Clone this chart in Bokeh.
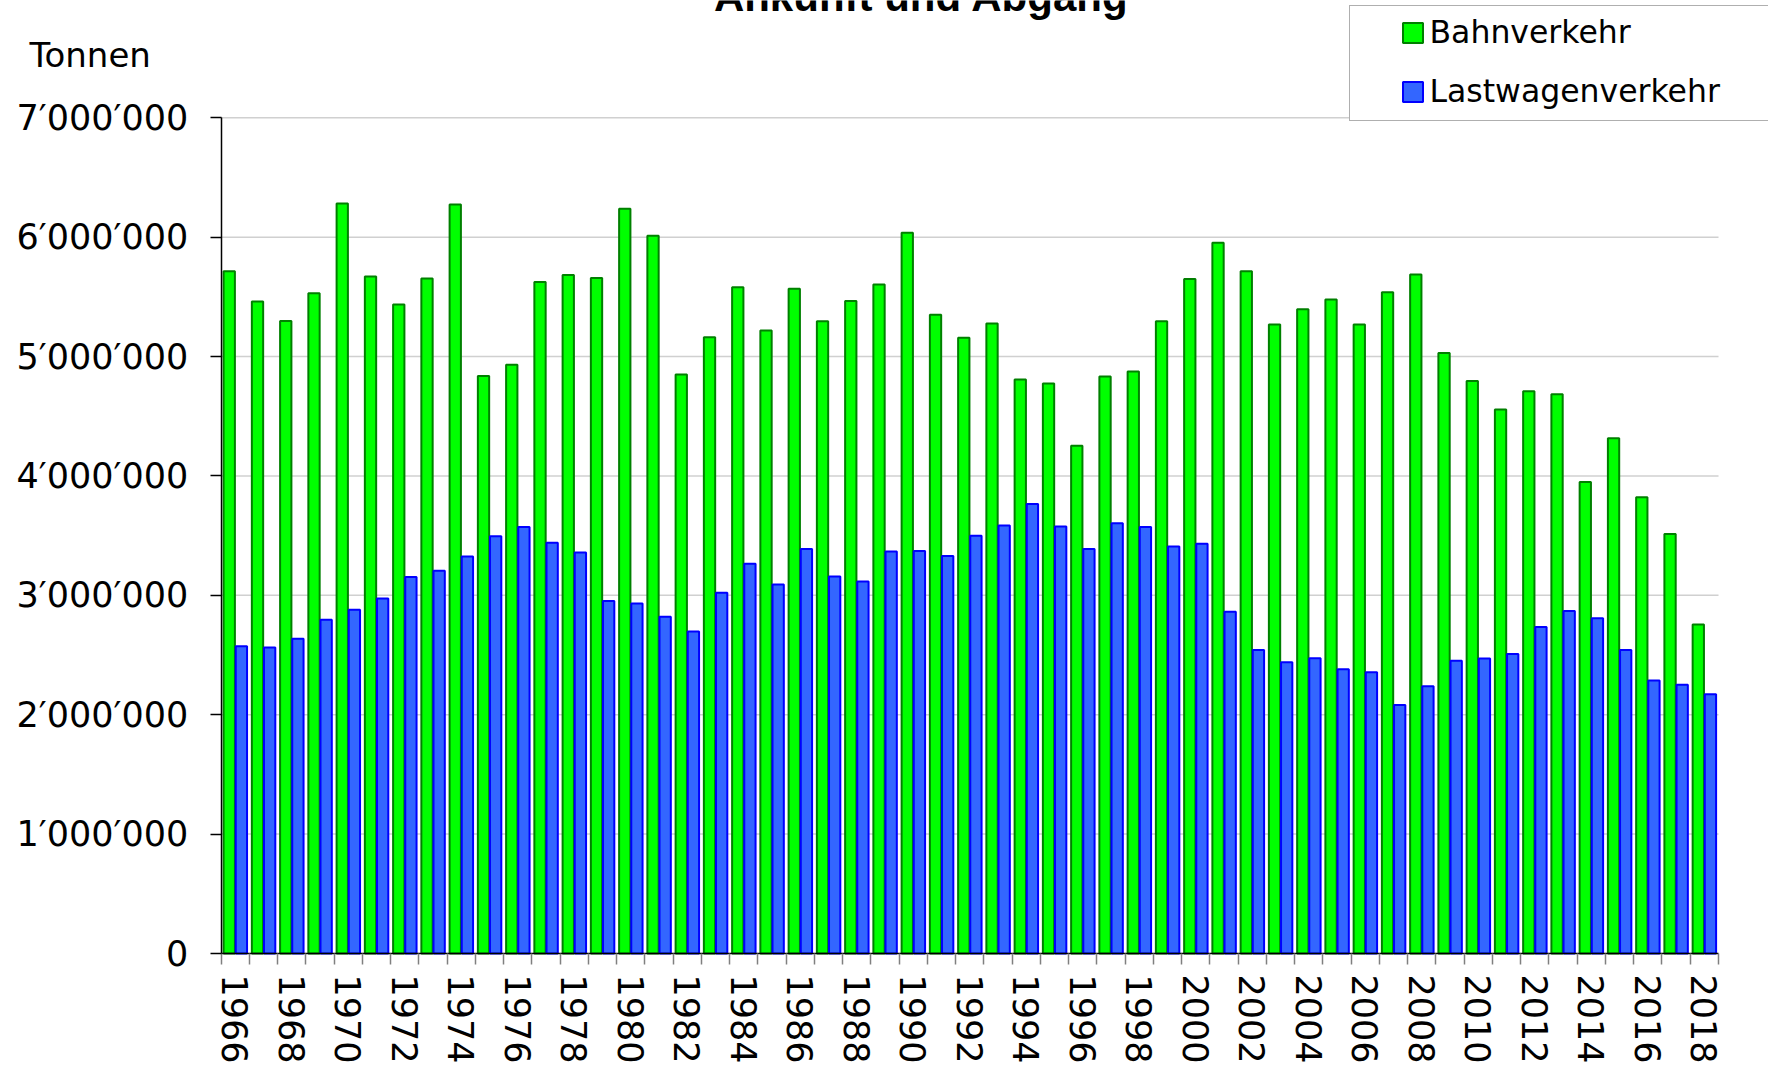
from bokeh.plotting import figure
from bokeh.models import (Range1d, FixedTicker, Legend, LegendItem, Label, ColumnDataSource)
from bokeh.transform import dodge
from bokeh.embed import file_html
from bokeh.resources import INLINE

# ---- data ----
years = list(range(1966, 2019))
bahn = [5714000, 5462000, 5299000, 5530000, 6282000, 5671000, 5436000, 5654000, 6274000, 4838000,
        4932000, 5624000, 5684000, 5658000, 6239000, 6013000, 4850000, 5162000, 5581000, 5218000,
        5568000, 5295000, 5466000, 5603000, 6038000, 5350000, 5158000, 5278000, 4808000, 4774000,
        4252000, 4833000, 4876000, 5295000, 5650000, 5953000, 5714000, 5269000, 5397000, 5479000,
        5269000, 5538000, 5688000, 5030000, 4795000, 4556000, 4709000, 4684000, 3949000, 4316000,
        3821000, 3513000, 2756000]
lkw = [2573000, 2564000, 2637000, 2795000, 2880000, 2974000, 3154000, 3205000, 3325000, 3496000,
       3573000, 3440000, 3359000, 2953000, 2932000, 2821000, 2697000, 3021000, 3265000, 3090000,
       3389000, 3158000, 3115000, 3368000, 3372000, 3329000, 3500000, 3585000, 3765000, 3577000,
       3389000, 3603000, 3573000, 3410000, 3432000, 2863000, 2543000, 2440000, 2474000, 2380000,
       2355000, 2081000, 2239000, 2453000, 2470000, 2509000, 2735000, 2868000, 2808000, 2543000,
       2286000, 2252000, 2171000]
series_names = ["Bahnverkehr", "Lastwagenverkehr"]
y_ticks = [0, 1000000, 2000000, 3000000, 4000000, 5000000, 6000000, 7000000]
y_tick_labels = ["0", "1\u2032000\u2032000", "2\u2032000\u2032000", "3\u2032000\u2032000",
                 "4\u2032000\u2032000", "5\u2032000\u2032000", "6\u2032000\u2032000", "7\u2032000\u2032000"]
x_label_years = list(range(1966, 2019, 2))
x_tick_labels = [str(y) for y in x_label_years]
title_text = "Ankunft und Abgang"
unit_text = "Tonnen"

# ---- geometry (canvas px) ----
W, H = 1768, 1067
PX_L, PX_R = 220.7, 1718.0      # canvas x of the plot-area left / right edges
PX_T, PX_B = 117.3, 953.0       # canvas y of the 7M gridline / zero line
X0, X1 = years[0] - 0.5, years[-1] + 0.5
Y1 = y_ticks[-1]
sx = (PX_R - PX_L) / (X1 - X0)
sy = (PX_B - PX_T) / Y1


def dx(px):
    return X0 + (px - PX_L) / sx


def dy(py):
    return (PX_B - py) / sy


p = figure(width=W, height=H, output_backend="svg", toolbar_location=None,
           x_range=Range1d(dx(0), dx(W)), y_range=Range1d(dy(H), dy(0)),
           min_border=0)
p.outline_line_color = None
p.background_fill_color = "white"
p.border_fill_color = "white"
p.xgrid.visible = False
p.ygrid.visible = False

# gridlines over the plot area only
p.segment(x0=X0, x1=X1, y0=y_ticks[1:], y1=y_ticks[1:], line_color="#d0d0d0",
          line_width=1.5, level="underlay")

src = ColumnDataSource(dict(year=years, bahn=bahn, lkw=lkw))
r_bahn = p.vbar(x=dodge("year", -0.215), top="bahn", width=0.40, source=src,
                fill_color="#00ff00", line_color="#008000", line_width=2)
r_lkw = p.vbar(x=dodge("year", 0.215), top="lkw", width=0.40, source=src,
               fill_color="#3366ff", line_color="#0000ff", line_width=2)

# axes (fixed inside the frame)
yax = p.yaxis[0]
yax.fixed_location = X0
yax.bounds = (0, Y1)
yax.ticker = FixedTicker(ticks=y_ticks)
yax.major_label_overrides = {t: l for t, l in zip(y_ticks, y_tick_labels)}
yax.major_label_text_font = "DejaVu Sans"
yax.major_label_text_font_size = "35px"
yax.major_label_text_color = "black"
yax.major_label_standoff = 22
yax.major_tick_out = 11
yax.major_tick_in = 0
yax.major_tick_line_color = "black"
yax.major_tick_line_width = 1.5
yax.minor_tick_line_color = None
yax.axis_line_color = "black"
yax.axis_line_width = 1.5

xax = p.xaxis[0]
xax.fixed_location = 0
xax.bounds = (X0, X1)
xax.ticker = FixedTicker(ticks=x_label_years, minor_ticks=[y - 0.5 for y in years] + [X1])
xax.major_label_overrides = {t: l for t, l in zip(x_label_years, x_tick_labels)}
xax.major_label_orientation = "vertical"
xax.major_label_text_font = "DejaVu Sans"
xax.major_label_text_font_size = "35px"
xax.major_label_text_color = "black"
xax.major_label_standoff = 10
xax.major_tick_out = 0
xax.major_tick_in = 0
xax.minor_tick_out = 11
xax.minor_tick_in = 0
xax.minor_tick_line_color = "#808080"
xax.minor_tick_line_width = 1.5
xax.axis_line_color = "black"
xax.axis_line_width = 1.5

# legend frame box (border only)
dummy = p.scatter(x=[], y=[], size=1, fill_alpha=0, line_alpha=0)
legend_box = Legend(items=[LegendItem(label=" ", renderers=[dummy])],
                    location=(1349, H - 121), margin=0, padding=0,
                    glyph_width=1, glyph_height=114, label_height=114, label_width=500,
                    label_standoff=0, border_line_color="#606060", border_line_width=1.5,
                    background_fill_color="white", background_fill_alpha=1.0,
                    label_text_font_size="10px")
p.add_layout(legend_box)

legend = Legend(items=[LegendItem(label=series_names[0], renderers=[r_bahn]),
                       LegendItem(label=series_names[1], renderers=[r_lkw])],
                location=(1399.5, H - 109), margin=0, padding=0,
                glyph_width=25, glyph_height=25, label_height=34, spacing=23,
                label_standoff=5, border_line_color=None, background_fill_alpha=0,
                label_text_font="DejaVu Sans", label_text_font_size="31.5px",
                label_text_color="black")
p.add_layout(legend)

p.add_layout(Label(x=dx(921), y=dy(-4), text=title_text,
                   text_font="Liberation Sans", text_font_style="bold", text_font_size="42px",
                   text_align="center", text_baseline="alphabetic", text_color="black"))
p.add_layout(Label(x=dx(29), y=dy(54), text=unit_text,
                   text_font="DejaVu Sans", text_font_size="34px",
                   text_align="left", text_baseline="alphabetic", text_color="black"))

open("out.html", "w").write(file_html(p, INLINE))
